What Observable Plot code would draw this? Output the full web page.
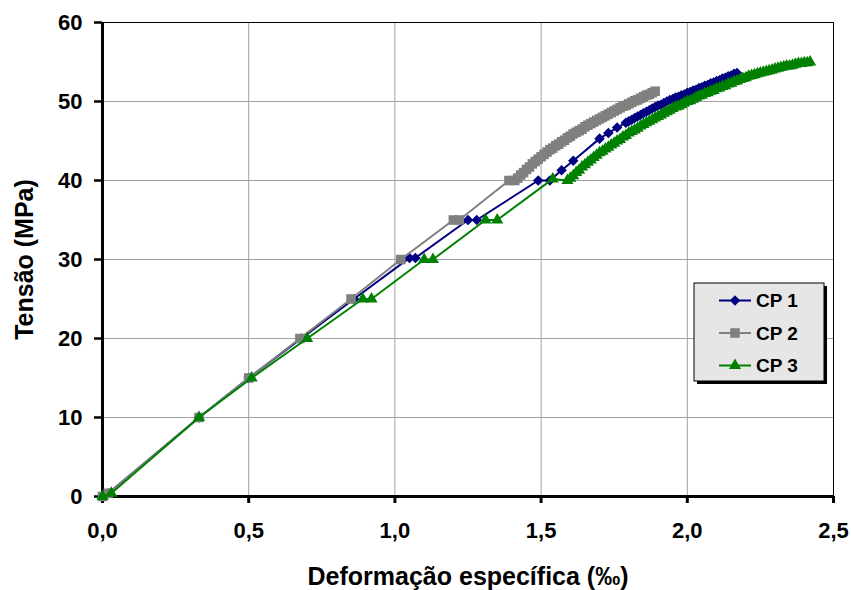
<!DOCTYPE html>
<html><head><meta charset="utf-8">
<script src="https://cdn.jsdelivr.net/npm/d3@7"></script>
<script src="https://cdn.jsdelivr.net/npm/@observablehq/plot@0.6"></script>
<style>body{margin:0;background:#fff}#chart{width:851px;height:590px}</style>
</head><body><div id="chart"></div>
<script>
const seriesNames = ["CP 1", "CP 2", "CP 3"];
const seriesColors = ["#000080", "#808080", "#008000"];
const xTicks = [0, 0.5, 1.0, 1.5, 2.0, 2.5];
const yTicks = [0, 10, 20, 30, 40, 50, 60];
const xLabel = "Deformação específica (‰)";
const yLabel = "Tensão (MPa)";

const cp1X = [0, 0.02, 0.33, 0.50, 0.68, 0.86, 1.05, 1.07, 1.25, 1.28, 1.49, 1.53, 1.57, 1.61, 1.70, 1.73, 1.76, 1.79,
  1.80, 1.81, 1.82, 1.83, 1.84, 1.85, 1.86, 1.87, 1.88, 1.89, 1.90, 1.91, 1.92, 1.93, 1.94, 1.95, 1.96, 1.97, 1.98, 1.99,
  2.00, 2.01, 2.02, 2.03, 2.04, 2.05, 2.06, 2.07, 2.08, 2.09, 2.10, 2.11, 2.12, 2.13, 2.14, 2.15, 2.16, 2.17];
const cp1Y = [0, 0.4, 10, 15, 20, 25, 30.2, 30.2, 35, 35, 40, 40, 41.3, 42.5, 45.3, 46.0, 46.7, 47.3,
  47.5, 47.7, 47.9, 48.1, 48.3, 48.5, 48.7, 48.9, 49.1, 49.3, 49.5, 49.6, 49.8, 50.0, 50.2, 50.3, 50.5, 50.6, 50.8, 50.9,
  51.1, 51.2, 51.4, 51.5, 51.7, 51.8, 52.0, 52.1, 52.3, 52.4, 52.6, 52.7, 52.9, 53.0, 53.2, 53.3, 53.5, 53.6];

const cp2X = [0, 0.02, 0.33, 0.50, 0.675, 0.85, 1.02, 1.20, 1.22, 1.39, 1.41,
  1.42, 1.43, 1.44, 1.45, 1.46, 1.47, 1.48, 1.49, 1.50, 1.51, 1.52, 1.53, 1.54, 1.55, 1.56, 1.57, 1.58, 1.59,
  1.60, 1.61, 1.62, 1.63, 1.64, 1.65, 1.66, 1.67, 1.68, 1.69, 1.70, 1.71, 1.72, 1.73, 1.74, 1.75, 1.76, 1.77, 1.78, 1.79,
  1.80, 1.81, 1.82, 1.83, 1.84, 1.85, 1.86, 1.87, 1.88, 1.89];
const cp2Y = [0, 0.4, 10, 15, 20, 25, 30, 35, 35, 40, 40,
  40.3, 40.7, 41.0, 41.4, 41.7, 42.1, 42.4, 42.7, 43.0, 43.3, 43.6, 43.9, 44.1, 44.4, 44.6, 44.9, 45.1, 45.4,
  45.6, 45.9, 46.1, 46.3, 46.5, 46.8, 47.0, 47.2, 47.4, 47.6, 47.8, 48.0, 48.2, 48.4, 48.6, 48.8, 49.0, 49.2, 49.4, 49.5,
  49.7, 49.9, 50.1, 50.2, 50.4, 50.6, 50.8, 50.9, 51.1, 51.3];

const cp3X = [0, 0.03, 0.33, 0.51, 0.70, 0.89, 0.92, 1.10, 1.13, 1.31, 1.35, 1.54, 1.59,
  1.60, 1.61, 1.62, 1.63, 1.64, 1.65, 1.66, 1.67, 1.68, 1.69, 1.70, 1.71, 1.72, 1.73, 1.74, 1.75, 1.76, 1.77, 1.78, 1.79,
  1.80, 1.81, 1.82, 1.83, 1.84, 1.85, 1.86, 1.87, 1.88, 1.89, 1.90, 1.91, 1.92, 1.93, 1.94, 1.95, 1.96, 1.97, 1.98, 1.99,
  2.00, 2.01, 2.02, 2.03, 2.04, 2.05, 2.06, 2.07, 2.08, 2.09, 2.10, 2.11, 2.12, 2.13, 2.14, 2.15, 2.16, 2.17, 2.18, 2.19,
  2.20, 2.21, 2.22, 2.23, 2.24, 2.25, 2.26, 2.27, 2.28, 2.29, 2.30, 2.31, 2.32, 2.33, 2.34, 2.35, 2.36, 2.37, 2.38, 2.39,
  2.40, 2.41, 2.42];
const cp3Y = [0, 0.4, 10, 15, 20, 25, 25, 30, 30, 35, 35, 40.2, 40,
  40.3, 40.6, 41.0, 41.3, 41.7, 42.0, 42.3, 42.6, 42.9, 43.2, 43.5, 43.7, 44.0, 44.2, 44.5, 44.7, 45.0, 45.2, 45.5, 45.7,
  46.0, 46.2, 46.4, 46.6, 46.9, 47.1, 47.3, 47.5, 47.7, 47.9, 48.1, 48.3, 48.5, 48.7, 48.9, 49.1, 49.3, 49.4, 49.6, 49.8,
  50.0, 50.1, 50.3, 50.5, 50.7, 50.8, 51.0, 51.1, 51.3, 51.4, 51.6, 51.7, 51.9, 52.0, 52.2, 52.3, 52.5, 52.6, 52.8, 52.9,
  53.0, 53.2, 53.3, 53.4, 53.5, 53.6, 53.7, 53.8, 53.9, 54.0, 54.1, 54.2, 54.3, 54.4, 54.5, 54.5, 54.6, 54.7, 54.8, 54.8,
  54.9, 54.9, 55.0];

const diamond = {draw(ctx, size) { const r = Math.sqrt(size / 2); ctx.moveTo(0, -r); ctx.lineTo(r, 0); ctx.lineTo(0, r); ctx.lineTo(-r, 0); ctx.closePath(); }};
const symbols = [diamond, "square", "triangle"];
const radii = [4.2, 5.4, 4.5];

const allX = [cp1X, cp2X, cp3X];
const allY = [cp1Y, cp2Y, cp3Y];
const rows = allX.map((xs, s) => xs.map((x, i) => ({series: seriesNames[s], x, y: allY[s][i]})));

const font = "'Liberation Sans', Arial, sans-serif";
const fmt = d => d.toFixed(1).replace(".", ",");

function legendMark(index, scales, values, dimensions) {
  const g = d3.create("svg:g");
  const x0 = 694, y0 = 283, w = 130, h = 98;
  g.append("rect").attr("x", x0 + 3).attr("y", y0 + 3).attr("width", w).attr("height", h).attr("fill", "#000");
  g.append("rect").attr("x", x0).attr("y", y0).attr("width", w).attr("height", h).attr("fill", "#e6e6e6").attr("stroke", "#000").attr("stroke-width", 1);
  seriesNames.forEach((name, i) => {
    const yy = 300.5 + i * 32.5;
    g.append("line").attr("x1", 719).attr("x2", 751).attr("y1", yy).attr("y2", yy).attr("stroke", seriesColors[i]).attr("stroke-width", 2);
    const sym = typeof symbols[i] === "string" ? (symbols[i] === "square" ? d3.symbolSquare : d3.symbolTriangle) : symbols[i];
    g.append("path").attr("transform", `translate(735,${yy})`).attr("d", d3.symbol(sym, Math.PI * radii[i] * radii[i])()).attr("fill", seriesColors[i]);
    g.append("text").attr("x", 756).attr("y", yy).attr("dy", "0.36em").attr("text-anchor", "start")
      .attr("font-size", 19).attr("font-weight", "bold").attr("font-family", font).attr("fill", "#000").text(name);
  });
  return g.node();
}

const marks = [
  Plot.gridX(xTicks, {stroke: "#a0a0a0", strokeOpacity: 1, strokeWidth: 1}),
  Plot.gridY(yTicks, {stroke: "#a0a0a0", strokeOpacity: 1, strokeWidth: 1}),
  Plot.frame({stroke: "#000", strokeWidth: 1}),
  Plot.axisX({ticks: xTicks, tickFormat: fmt, tickSize: 7, tickPadding: 19, strokeWidth: 3, label: null, fontSize: 22, fontWeight: "bold"}),
  Plot.axisY({ticks: yTicks, tickSize: 8, tickPadding: 12, strokeWidth: 2.5, label: null, fontSize: 22, fontWeight: "bold"}),
  Plot.ruleX([0], {stroke: "#000", strokeWidth: 3}),
  Plot.ruleY([0], {stroke: "#000", strokeWidth: 3}),
];
rows.forEach((data, s) => {
  marks.push(Plot.line(data, {x: "x", y: "y", stroke: seriesColors[s], strokeWidth: 2}));
  marks.push(Plot.dot(data, {x: "x", y: "y", symbol: symbols[s], r: radii[s], fill: seriesColors[s], stroke: "none"}));
});
marks.push(Plot.text([yLabel], {frameAnchor: "left", dx: -78, rotate: -90, textAnchor: "middle", lineAnchor: "middle", fontSize: 25, fontWeight: "bold", fill: "#000"}));
marks.push(Plot.text([xLabel], {frameAnchor: "bottom", dy: 80, textAnchor: "middle", lineAnchor: "middle", fontSize: 25, fontWeight: "bold", fill: "#000"}));
marks.push(legendMark);

const chart = Plot.plot({
  width: 851, height: 590,
  marginLeft: 102, marginRight: 18, marginTop: 22, marginBottom: 94,
  x: {domain: [0, 2.5]},
  y: {domain: [0, 60]},
  style: {fontFamily: font, fontSize: "22px", fontWeight: "bold", color: "#000", background: "#fff"},
  marks
});
document.getElementById("chart").appendChild(chart);
</script>
</body></html>
